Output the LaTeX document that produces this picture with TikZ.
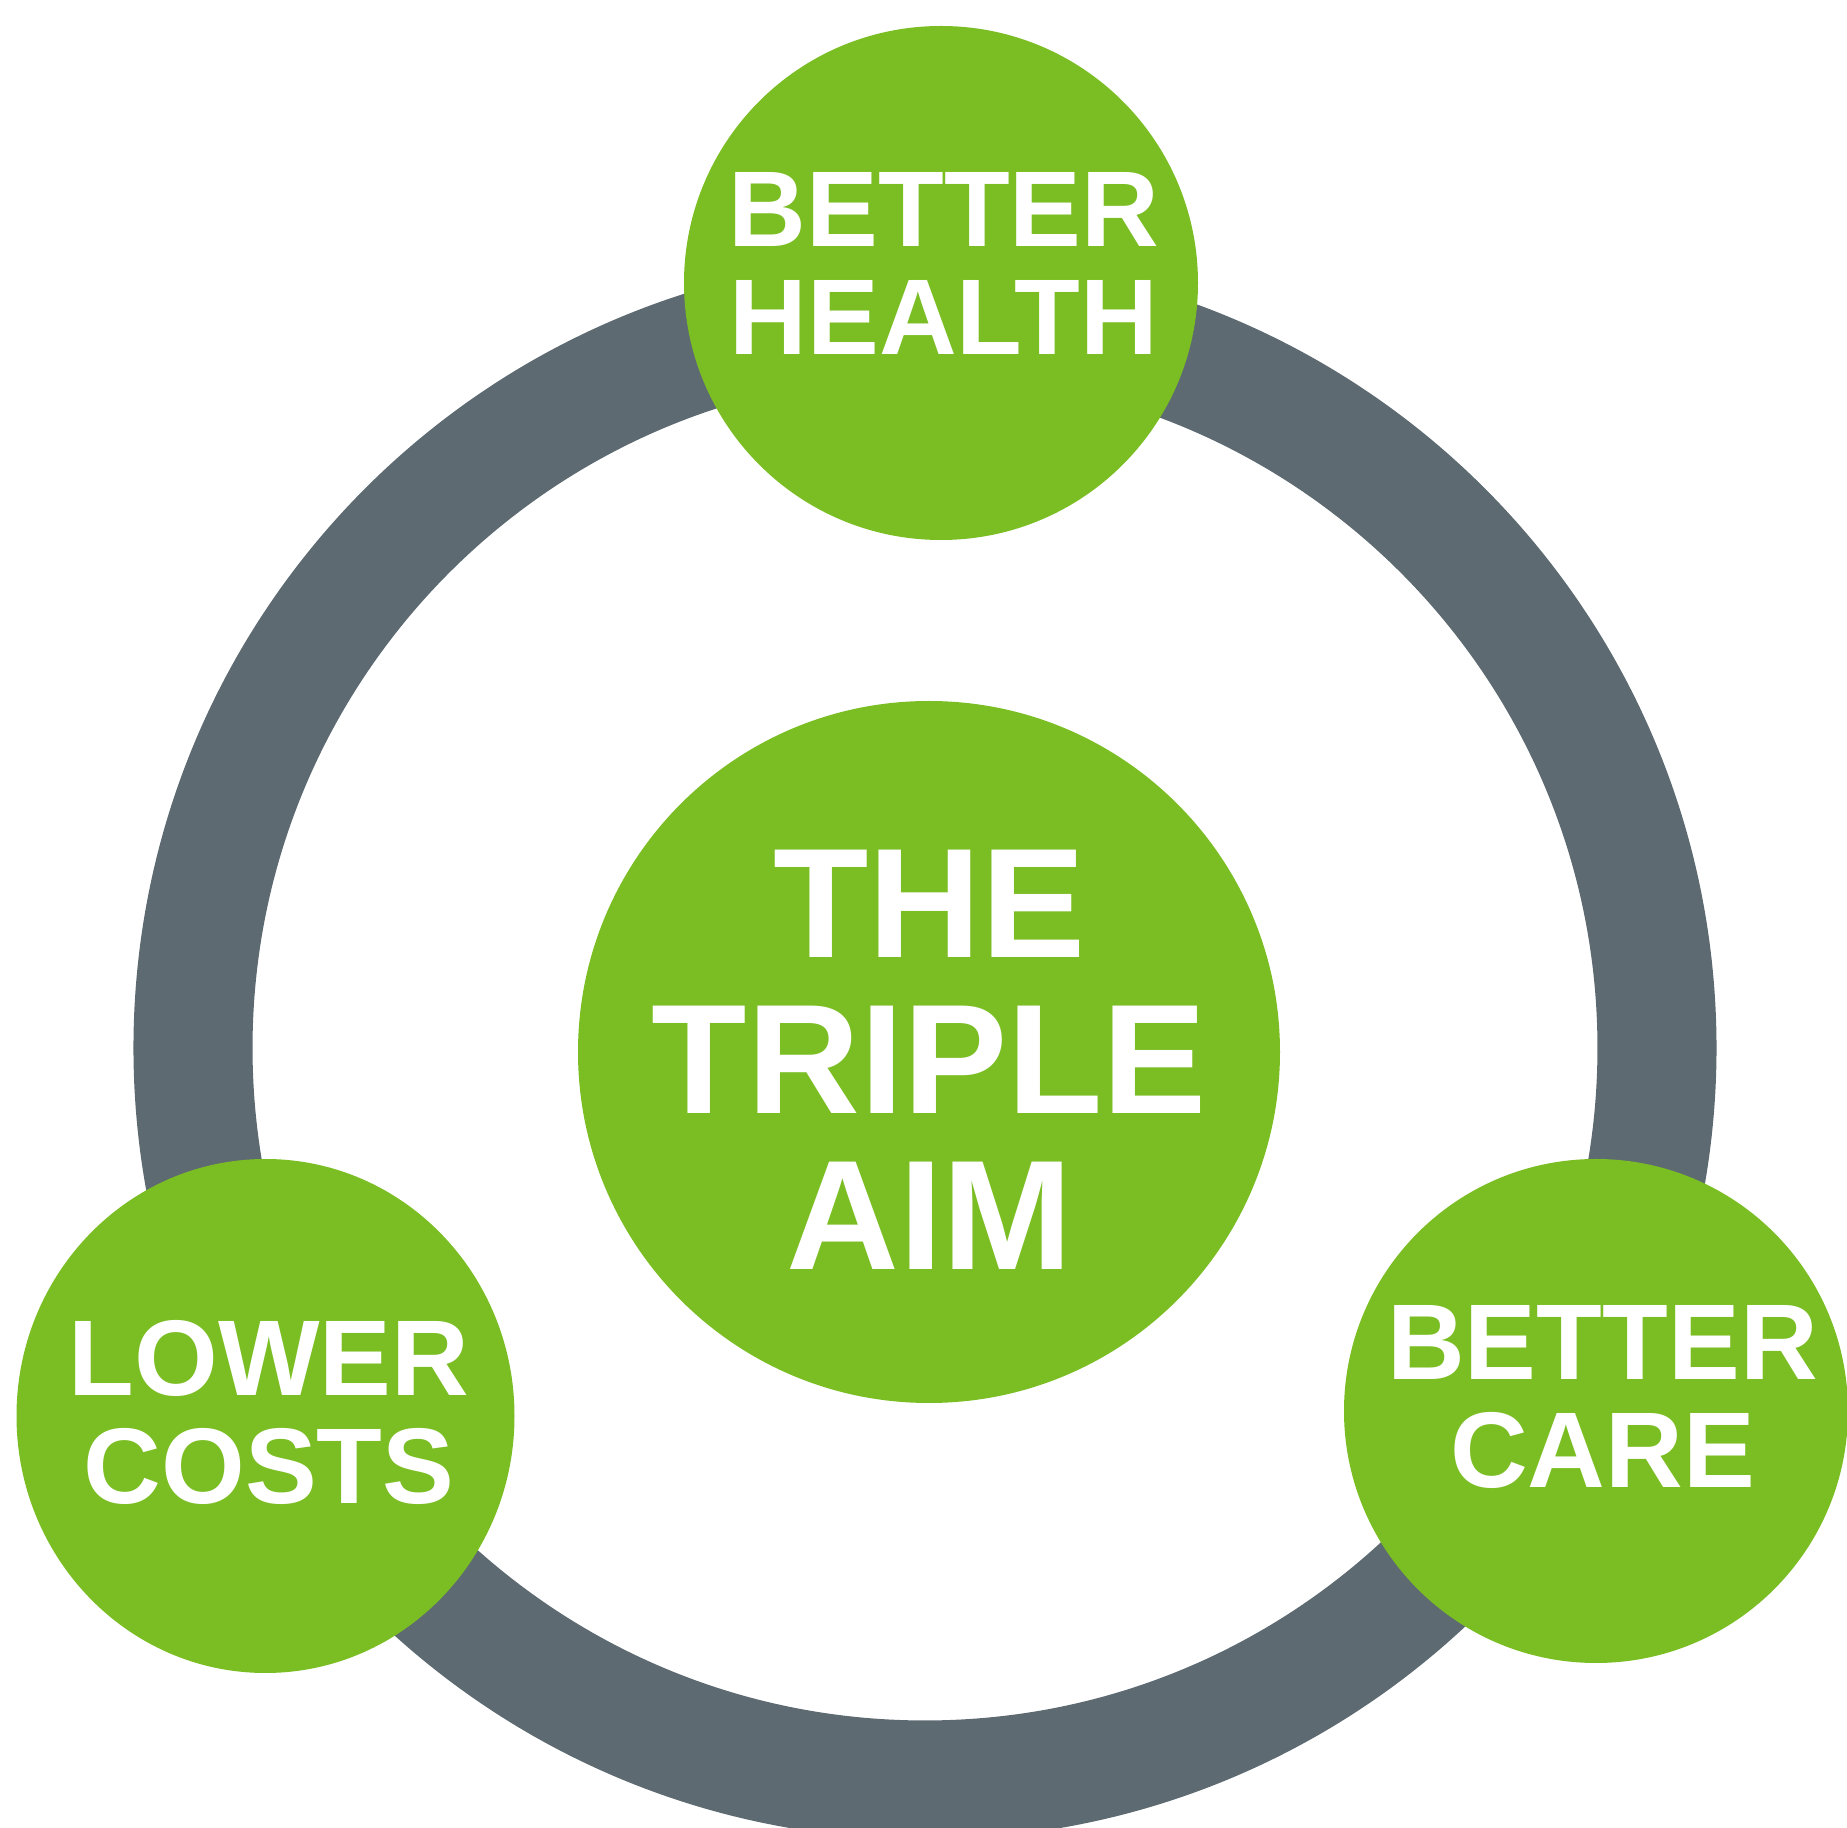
\documentclass[tikz,border=0pt]{standalone}
\usepackage{fontspec}
\setmainfont{Liberation Sans}
\definecolor{aimGreenCol}{RGB}{123,190,35}
\definecolor{ringGrayCol}{RGB}{94,106,113}
\tikzset{myRing/.style={draw=ringGrayCol, line width=1.19cm}}
\tikzset{myDisc/.style={fill=aimGreenCol}}
\tikzset{myAimText/.style={text=white, align=center, font=\fontsize{30.6}{30.7}\selectfont\bfseries}}
\tikzset{myBigText/.style={text=white, align=center, font=\fontsize{44.4}{44.4}\selectfont\bfseries}}

\begin{document}
\begin{tikzpicture}[x=0.01cm,y=-0.01cm]
	\useasboundingbox (0,0) rectangle (1847,1828);
	\clip (0,0) rectangle (1847,1828);
	% grey ring behind the discs
	\draw[myRing](925,1048) circle [radius=732];

	\fill[myDisc](941,283) circle [radius=257];
	\fill[myDisc](929,1052) circle [radius=351];
	\fill[myDisc](265.5,1416) ellipse [x radius=249, y radius=257];
	\fill[myDisc](1596,1411) circle [radius=252];

	\node[myAimText] (health) at (944,263.5) {BETTER\\HEALTH};
	\node[myBigText] (aim) at (929.5,1060) {THE\\TRIPLE\\AIM};
	\node[myAimText] (costs) at (269,1412) {LOWER\\COSTS};
	\node[myAimText] (care) at (1602.5,1397) {BETTER\\CARE};
\end{tikzpicture}
\end{document}
